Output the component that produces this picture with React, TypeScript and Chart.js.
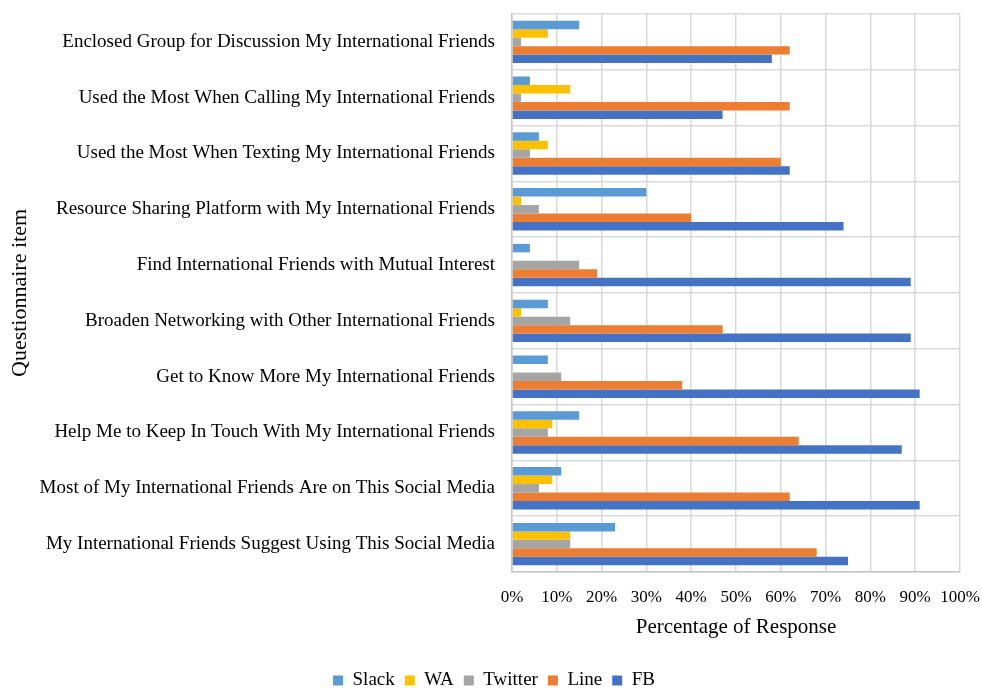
import { useEffect, useRef } from 'react';
import { Chart, registerables } from 'chart.js';

Chart.register(...registerables);

const categories = [
  'Enclosed Group for Discussion My International Friends',
  'Used the Most When Calling My International Friends',
  'Used the Most When Texting My International Friends',
  'Resource Sharing Platform with My International Friends',
  'Find International Friends with Mutual Interest',
  'Broaden Networking with Other International Friends',
  'Get to Know More My International Friends',
  'Help Me to Keep In Touch With My International Friends',
  'Most of My International Friends Are on This Social Media',
  'My International Friends Suggest Using This Social Media',
];

const slack = [15, 4, 6, 30, 4, 8, 8, 15, 11, 23];
const wa = [8, 13, 8, 2, 0, 2, 0, 9, 9, 13];
const twitter = [2, 2, 4, 6, 15, 13, 11, 8, 6, 13];
const line = [62, 62, 60, 40, 19, 47, 38, 64, 62, 68];
const fb = [58, 47, 62, 74, 89, 89, 91, 87, 91, 75];

const seriesNames = ['Slack', 'WA', 'Twitter', 'Line', 'FB'];
const seriesValues = [slack, wa, twitter, line, fb];
const seriesColors = ['#5B9BD5', '#FFC000', '#A5A5A5', '#ED7D31', '#4472C4'];

const xMin = 0;
const xMax = 100;
const xStep = 10;

export default function App() {
  const ref = useRef<HTMLCanvasElement>(null);

  useEffect(() => {
    if (!ref.current) return;
    Chart.defaults.font.family = '"Liberation Serif", "Times New Roman", serif';
    Chart.defaults.color = '#000';
    const chart = new Chart(ref.current, {
      type: 'bar',
      data: {
        labels: categories,
        datasets: seriesNames.map((name, i) => ({
          label: name,
          data: seriesValues[i],
          backgroundColor: seriesColors[i],
          borderWidth: 0,
          categoryPercentage: 0.76,
          barPercentage: 1.0,
        })),
      },
      options: {
        indexAxis: 'y',
        responsive: false,
        animation: false,
        devicePixelRatio: 1,
        layout: { padding: { top: 14, right: 22, bottom: 0, left: 28 } },
        plugins: {
          legend: {
            position: 'bottom',
            labels: {
              boxWidth: 10,
              boxHeight: 10,
              padding: 10,
              font: { size: 19 },
              color: '#000',
            },
          },
          tooltip: { enabled: false },
        },
        scales: {
          x: {
            min: xMin,
            max: xMax,
            ticks: {
              stepSize: xStep,
              callback: (v: any) => v + '%',
              padding: 15,
              maxRotation: 0,
              minRotation: 0,
              font: { size: 17 },
              color: '#000',
            },
            grid: { color: '#d9d9d9', lineWidth: 1.5, drawTicks: false },
            border: { color: '#c6c6c6', width: 1.5 },
            title: {
              display: true,
              text: 'Percentage of Response',
              font: { size: 21 },
              color: '#000',
              padding: { top: 4, bottom: 21 },
            },
            afterFit: (s: any) => {
              s.height = 89;
              s.paddingLeft = 0;
              s.paddingRight = 0;
            },
          },
          y: {
            ticks: {
              autoSkip: false,
              padding: 17,
              font: { size: 19 },
              color: '#000',
            },
            grid: { color: '#d9d9d9', lineWidth: 1.5, drawTicks: false },
            border: { color: '#c6c6c6', width: 1.5 },
            title: {
              display: true,
              text: 'Questionnaire item',
              font: { size: 22 },
              color: '#000',
              padding: { top: -21, bottom: 0 },
            },
            afterFit: (s: any) => {
              s.width = 484;
              s.paddingTop = 0;
              s.paddingBottom = 0;
            },
          },
        },
      },
    });
    return () => chart.destroy();
  }, []);

  return (
    <div
      style={{
        position: 'fixed',
        left: 0,
        top: 0,
        width: 982,
        height: 688,
        overflow: 'hidden',
        background: '#fff',
      }}
    >
      <canvas ref={ref} width={982} height={700} style={{ display: 'block', width: 982, height: 700 }} />
    </div>
  );
}
